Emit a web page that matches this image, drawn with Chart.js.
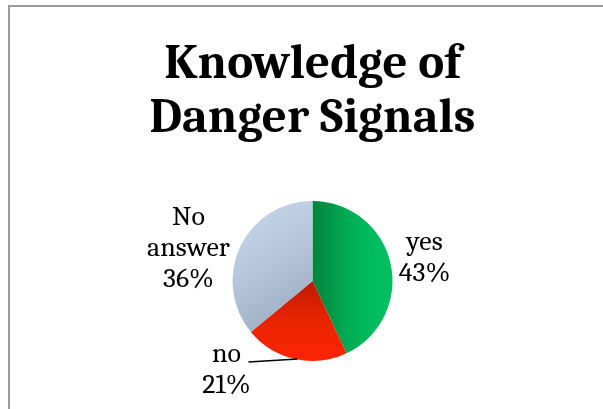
<!DOCTYPE html>
<html><head><meta charset="utf-8">
<script src="https://cdn.jsdelivr.net/npm/chart.js@4"></script>
<style>
html,body{margin:0;padding:0;background:#fff;overflow:hidden}
#wrap{position:relative;width:603px;height:409px}
#frame{position:absolute;left:8px;top:5px;width:700px;height:500px;border-left:2px solid #9a9a9a;border-top:2px solid #9a9a9a;box-sizing:border-box}
canvas{position:absolute;left:0;top:0}
</style></head>
<body><div id="wrap"><div id="frame"></div><canvas id="c" width="603" height="409"></canvas></div>
<script>
const titleLines = ["Knowledge of", "Danger Signals"];
const categories = ["yes", "no", "No answer"];
const labelLines = [["yes"], ["no"], ["No", "answer"]];
const values = [43, 21, 36];
const percentLabels = ["43%", "21%", "36%"];

const serif = "Cambria, Caladea, 'DejaVu Serif', serif";
const R = 80;

function grad(ctx, cx, cy, r, i) {
  let g;
  if (i === 0) {
    g = ctx.createLinearGradient(cx, 0, cx + r, 0);
    g.addColorStop(0, '#00833c');
    g.addColorStop(0.45, '#00ad55');
    g.addColorStop(0.75, '#00bc5e');
    g.addColorStop(1, '#00c062');
  } else if (i === 1) {
    g = ctx.createLinearGradient(0, cy, 0, cy + r);
    g.addColorStop(0, '#c01a00');
    g.addColorStop(0.5, '#e82400');
    g.addColorStop(1, '#ff2400');
  } else {
    g = ctx.createLinearGradient(cx - r, cy - r, cx, cy + r * 0.6);
    g.addColorStop(0, '#c8d8ec');
    g.addColorStop(0.5, '#b4c5da');
    g.addColorStop(1, '#95a6ba');
  }
  return g;
}

const labelPlugin = {
  id: 'pieLabels',
  afterDraw(chart) {
    const ctx = chart.ctx;
    const arcs = chart.getDatasetMeta(0).data;
    const a0 = arcs[0];
    const cx = a0.x, cy = a0.y;
    // label block centre x and first baseline y, relative to pie centre
    const anchors = [[112, -31], [-86, 81], [-124, -56]];
    ctx.save();
    ctx.fillStyle = '#000';
    ctx.font = "28px " + serif;
    ctx.textAlign = 'center';
    ctx.textBaseline = 'alphabetic';
    const lh = 31;
    arcs.forEach((arc, i) => {
      const lines = labelLines[i].concat([percentLabels[i]]);
      const x = cx + anchors[i][0];
      let y = cy + anchors[i][1];
      lines.forEach(t => { ctx.fillText(t, x, y); y += lh; });
    });
    ctx.strokeStyle = '#000';
    ctx.lineWidth = 1.5;
    ctx.beginPath();
    ctx.moveTo(cx - 64, cy + 81);
    ctx.lineTo(cx - 15, cy + 78);
    ctx.stroke();
    ctx.restore();
  }
};

new Chart(document.getElementById('c'), {
  type: 'pie',
  data: {
    labels: categories,
    datasets: [{
      data: values,
      backgroundColor: (c) => {
        const a = c.chart.chartArea;
        if (!a) return '#888';
        const cx = (a.left + a.right) / 2, cy = (a.top + a.bottom) / 2;
        return grad(c.chart.ctx, cx, cy, R, c.dataIndex);
      },
      borderWidth: 0,
      radius: R
    }]
  },
  options: {
    responsive: false,
    animation: false,
    layout: { padding: { top: 0, bottom: 48, left: 100, right: 78 } },
    plugins: {
      legend: { display: false },
      tooltip: { enabled: false },
      title: {
        display: true,
        text: titleLines,
        color: '#000',
        font: { family: serif, size: 49, weight: 'bold', lineHeight: 1.1 },
        padding: { top: 37, bottom: 56 }
      }
    }
  },
  plugins: [labelPlugin]
});
</script></body></html>
